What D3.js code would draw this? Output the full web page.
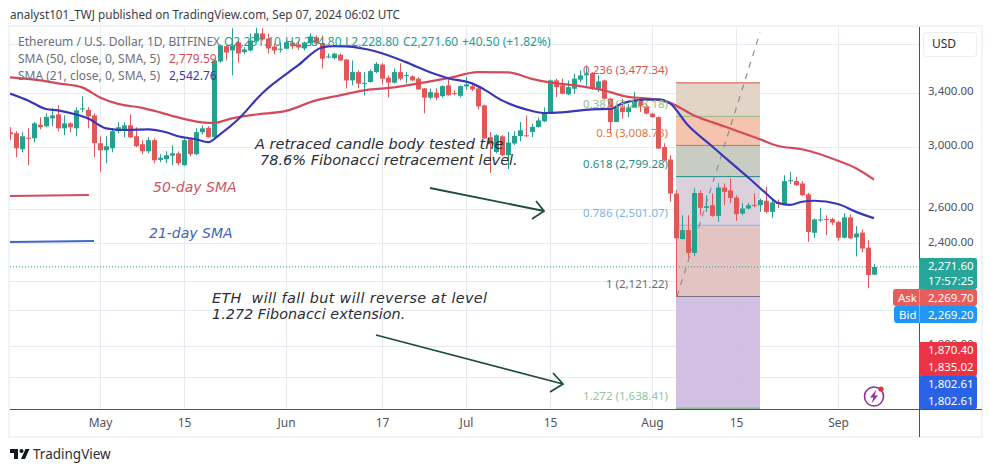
<!DOCTYPE html>
<html>
<head>
<meta charset="utf-8">
<script src="https://cdn.jsdelivr.net/npm/d3@7"></script>
<style>
  html, body { margin: 0; padding: 0; background: #fff; }
  svg { display: block; }
  text { font-family: "Noto Sans", sans-serif; }
  .note { font-family: "DejaVu Sans", sans-serif; font-style: italic; white-space: pre; }
  .axis path, .axis line { display: none; }
</style>
</head>
<body>
<div id="chart"></div>
<script>
// daily candles, Apr 16 to Sep 7 2024
var firstDay = '2024-04-16';
var opens = [3102,3095,2982,3062,3059,3156,3145,3203,3232,3130,3166,3130,3270,3267,3225,
  3024,2975,2989,3109,3123,3152,3073,3017,2968,3045,2910,2914,2938,2954,2874,3052,2948,3102,3134,3066,3654,3786,3748,3820,3733,3748,3829,3898,3853,3783,3754,
  3763,3817,3800,3765,3812,3862,3812,3688,3682,3711,3670,3497,3565,3471,3484,3565,3628,3519,3479,3565,3537,3530,3511,3433,3360,3399,3372,3457,3396,3375,
  3449,3451,3433,3301,3066,2963,3073,2941,3022,3075,3080,3104,3140,3181,3250,3497,3457,3386,3430,3503,3538,3552,3430,3497,3352,3176,3293,3250,3283,3339,3293,
  3238,3212,2998,2912,2691,2423,2473,2346,2695,2604,2620,2556,2729,2712,2667,2570,2600,2622,2620,2647,2580,2639,2627,2770,2771,2755,2687,2458,2531,2537,2537,
  2521,2430,2547,2432,2459,2375,2231.1];
var highs = [3138,3109,3102,3130,3176,3210,3240,3278,3301,3225,3174,3286,3370,3286,3240,
  3073,3073,3130,3174,3174,3232,3138,3045,3066,3059,2948,2968,3010,2968,3059,3059,3130,3152,3145,3665,3800,3792,3945,3835,3777,3898,3950,3945,3898,3812,3817,
  3835,3835,3835,3826,3898,3880,3880,3722,3728,3722,3677,3662,3579,3565,3587,3648,3639,3538,3595,3637,3565,3538,3525,3438,3433,3433,3457,3525,3417,3457,
  3525,3471,3443,3306,3104,3087,3080,3104,3109,3176,3225,3164,3210,3286,3505,3511,3511,3497,3552,3579,3620,3565,3538,3503,3360,3301,3352,3313,3404,3365,3313,
  3243,3218,3024,2941,2712,2560,2560,2725,2712,2681,2693,2759,2755,2789,2681,2631,2634,2693,2661,2735,2661,2655,2808,2830,2797,2770,2695,2541,2604,2560,2545,
  2527,2574,2564,2497,2477,2417,2287];
var lows = [3045,2927,2961,2874,3031,3123,3138,3145,3109,3080,3102,3073,3248,3130,2927,
  2828,2887,2961,3095,3066,3059,2996,2948,2954,2887,2894,2887,2874,2874,2870,2934,2941,3087,3062,3059,3645,3662,3538,3645,3718,3739,3817,3835,3722,3713,3730,
  3757,3757,3752,3748,3792,3792,3595,3680,3670,3658,3433,3457,3433,3378,3479,3557,3465,3362,3473,3497,3473,3489,3422,3240,3347,3339,3362,3375,3378,3360,
  3422,3411,3270,3055,2823,2954,2934,2848,3012,3038,3066,3068,3134,3176,3245,3365,3386,3380,3391,3484,3443,3422,3404,3344,3095,3176,3200,3212,3283,3250,3232,
  3207,2985,2900,2641,2121,2420,2322,2329,2560,2580,2550,2521,2620,2633,2527,2560,2594,2608,2580,2570,2544,2602,2622,2750,2739,2675,2407,2430,2521,2445,2502,
  2413,2427,2423,2327,2350,2162,2228.8];
var closes = [3087,2989,3073,3059,3166,3138,3214,3225,3130,3166,3138,3263,3278,3218,3024,
  2975,3003,3109,3138,3152,3066,3003,2968,3045,2907,2924,2941,2954,2887,3045,2948,3102,3130,3066,3662,3792,3730,3792,3722,3757,3835,3900,3844,3765,3748,3763,
  3820,3783,3774,3817,3871,3809,3677,3696,3720,3662,3497,3565,3471,3477,3573,3634,3511,3479,3565,3511,3540,3497,3425,3360,3404,3360,3451,3380,3391,3451,
  3465,3425,3293,3057,3017,3080,2941,3029,3075,3116,3076,3140,3188,3250,3497,3443,3391,3443,3511,3538,3552,3430,3489,3352,3176,3288,3250,3283,3339,3293,3238,
  3212,2987,2907,2691,2427,2473,2346,2695,2604,2614,2556,2729,2702,2664,2566,2600,2620,2618,2651,2580,2637,2627,2770,2776,2744,2681,2463,2535,2535,2533,2517,
  2430,2547,2427,2454,2370,2229,2271.6];

// moving averages, read at key dates
var sma50Dates = ['2024-04-16','2024-04-21','2024-04-24','2024-04-28','2024-05-01','2024-05-04','2024-05-08','2024-05-11','2024-05-14','2024-05-18','2024-05-20','2024-05-23','2024-05-27','2024-06-01','2024-06-06','2024-06-10','2024-06-14','2024-06-19','2024-06-25','2024-06-28','2024-07-03','2024-07-08','2024-07-12','2024-07-15','2024-07-20','2024-07-24','2024-07-28','2024-07-31','2024-08-04','2024-08-08','2024-08-13','2024-08-19','2024-08-22','2024-08-26','2024-09-01','2024-09-04','2024-09-07'];
var sma50Values = [3522,3497,3473,3441,3362,3312,3282,3248,3210,3174,3170,3203,3232,3259,3339,3378,3417,3441,3489,3515,3565,3563,3510,3481,3451,3417,3366,3355,3320,3225,3145,3052,3005,2982,2904,2854,2779.59];
var sma21Dates = ['2024-04-16','2024-04-19','2024-04-22','2024-04-24','2024-04-27','2024-04-29','2024-05-02','2024-05-05','2024-05-09','2024-05-12','2024-05-14','2024-05-17','2024-05-19','2024-05-21','2024-05-24','2024-05-28','2024-06-03','2024-06-07','2024-06-09','2024-06-11','2024-06-16','2024-06-21','2024-06-25','2024-06-28','2024-07-02','2024-07-04','2024-07-07','2024-07-11','2024-07-14','2024-07-17','2024-07-22','2024-07-25','2024-07-27','2024-07-30','2024-08-02','2024-08-04','2024-08-07','2024-08-11','2024-08-14','2024-08-17','2024-08-20','2024-08-22','2024-08-24','2024-08-26','2024-08-28','2024-09-01','2024-09-04','2024-09-07'];
var sma21Values = [3393,3339,3273,3263,3232,3203,3130,3118,3123,3102,3073,3052,3031,3087,3195,3393,3620,3774,3786,3783,3739,3648,3563,3515,3473,3425,3339,3270,3243,3248,3270,3273,3316,3343,3347,3316,3152,3003,2896,2795,2693,2633,2622,2641,2647,2627,2580,2542.76];

// fibonacci retracement
var fibStart = '2024-08-05', fibEnd = '2024-08-19';
var fibRatios = ['0.236','0.382','0.5','0.618','0.786','1','1.272'];
var fibPrices = [3477.34,3218.18,3008.73,2799.28,2501.07,2121.22,1638.41];
var fibPriceText = ['3,477.34','3,218.18','3,008.73','2,799.28','2,501.07','2,121.22','1,638.41'];
var fibLineColors = ['#cf4f44','#8dbb7e','#d9703a','#1f8f83','#7fb6e0','#77727f','#86bd8a'];
var fibFillColors = ['#e0d2c3','#f6c0ab','#c5c9c0','#dacddb','#e2c1bf','#cfbde0'];
var fibTextColors = ['#d0574c','#93bf85','#dd7a3e','#1f8f83','#7db3e2','#6a6d78','#93c596'];
var extendTo = 3906;   // dashed trend line end

var gridPrices = [3800,3400,3000,2600,2400,2200,2056,1893,1759];
var priceTicks = [3400,3000,2600,2400,1893];
var priceTickLabels = ['3,400.00','3,000.00','2,600.00','2,400.00','1,800.00'];
var timeTicks = ['2024-05-01','2024-05-15','2024-06-01','2024-06-17','2024-07-01','2024-07-15','2024-08-01','2024-08-15','2024-09-01'];
var timeTickLabels = ['May','15','Jun','17','Jul','15','Aug','15','Sep'];

var W = 991, H = 472;
var plotLeft = 10, plotRight = 919, plotTop = 27, plotBottom = 409;
var green = '#26a08f', red = '#e25858', textGrey = '#6d707b';

var parseDay = d3.utcParse('%Y-%m-%d');
var days = d3.utcDay.range(parseDay(firstDay), d3.utcDay.offset(parseDay('2024-09-07'), 1));

var x = d3.scaleUtc()
  .domain([parseDay(firstDay), new Date(Date.UTC(2024, 8, 14, 12))])
  .range([plotLeft, plotRight]);
var y = d3.scaleLog().domain([1635, 3957]).range([plotBottom, plotTop]);

var svg = d3.select('#chart').append('svg').attr('width', W).attr('height', H);

svg.append('defs').append('clipPath').attr('id', 'plot')
  .append('rect').attr('x', plotLeft).attr('y', plotTop).attr('width', plotRight - plotLeft).attr('height', plotBottom - plotTop);

// panel frame
svg.append('rect').attr('x', 9).attr('y', 26).attr('width', 973).attr('height', 411)
  .attr('fill', '#fff').attr('stroke', '#f0f3fa').attr('stroke-width', 2);

svg.append('text').attr('x', 10).attr('y', 19).attr('font-size', 11.7).attr('fill', '#3a3d46')
  .text('analyst101_TWJ published on TradingView.com, Sep 07, 2024 06:02 UTC');

var plot = svg.append('g').attr('clip-path', 'url(#plot)');

// grid
plot.append('g').selectAll('line').data(gridPrices).enter().append('line')
  .attr('x1', plotLeft).attr('x2', plotRight)
  .attr('y1', function(d) { return Math.round(y(d)) + 0.5; })
  .attr('y2', function(d) { return Math.round(y(d)) + 0.5; })
  .attr('stroke', '#e6ebf1');
plot.append('g').selectAll('line').data(timeTicks).enter().append('line')
  .attr('y1', plotTop).attr('y2', plotBottom)
  .attr('x1', function(d) { return Math.round(x(parseDay(d))) + 0.5; })
  .attr('x2', function(d) { return Math.round(x(parseDay(d))) + 0.5; })
  .attr('stroke', '#e6ebf1');

// fib bands
var fibX0 = x(parseDay(fibStart)), fibX1 = x(parseDay(fibEnd));
plot.append('g').selectAll('rect').data(fibFillColors).enter().append('rect')
  .attr('x', fibX0).attr('width', fibX1 - fibX0)
  .attr('y', function(d, i) { return y(fibPrices[i]); })
  .attr('height', function(d, i) { return y(fibPrices[i + 1]) - y(fibPrices[i]); })
  .attr('fill', function(d) { return d; })
  .attr('fill-opacity', 0.95);
plot.append('rect').attr('x', fibX0).attr('width', fibX1 - fibX0)
  .attr('y', y(fibPrices[6])).attr('height', plotBottom - y(fibPrices[6]))
  .attr('fill', '#8fb39b');
plot.append('g').selectAll('line').data(fibPrices).enter().append('line')
  .attr('x1', fibX0).attr('x2', fibX1)
  .attr('y1', function(d) { return y(d); })
  .attr('y2', function(d) { return y(d); })
  .attr('stroke', function(d, i) { return fibLineColors[i]; });

plot.append('line')
  .attr('x1', fibX0 + 1).attr('y1', y(fibPrices[5]))
  .attr('x2', fibX1).attr('y2', y(extendTo))
  .attr('stroke', '#8a8d96').attr('stroke-width', 1.2).attr('stroke-dasharray', '6 6');

// last price line
plot.append('line').attr('x1', plotLeft).attr('x2', plotRight)
  .attr('y1', y(closes[closes.length - 1])).attr('y2', y(closes[closes.length - 1]))
  .attr('stroke', green).attr('stroke-dasharray', '1 2');

// candles
var candles = plot.append('g').selectAll('g').data(days).enter().append('g')
  .attr('fill', function(d, i) { return closes[i] >= opens[i] ? green : red; })
  .attr('stroke', function(d, i) { return closes[i] >= opens[i] ? green : red; });
candles.append('line')
  .attr('x1', function(d) { return Math.round(x(d)) + 0.5; })
  .attr('x2', function(d) { return Math.round(x(d)) + 0.5; })
  .attr('y1', function(d, i) { return y(highs[i]); })
  .attr('y2', function(d, i) { return y(lows[i]); });
candles.append('rect')
  .attr('stroke', 'none')
  .attr('x', function(d) { return Math.round(x(d)) - 2; })
  .attr('width', 5)
  .attr('y', function(d, i) { return y(Math.max(opens[i], closes[i])); })
  .attr('height', function(d, i) { return Math.max(1, Math.abs(y(opens[i]) - y(closes[i]))); });

// moving averages
var smaLine = d3.line().curve(d3.curveMonotoneX)
  .x(function(d) { return x(d[0]); })
  .y(function(d) { return y(d[1]); });
plot.append('path')
  .attr('d', smaLine(d3.zip(sma50Dates.map(parseDay), sma50Values)))
  .attr('fill', 'none').attr('stroke', '#d34b5b').attr('stroke-width', 2.2);
plot.append('path')
  .attr('d', smaLine(d3.zip(sma21Dates.map(parseDay), sma21Values)))
  .attr('fill', 'none').attr('stroke', '#3a37b5').attr('stroke-width', 2.2);

// fib labels
svg.append('g').selectAll('text').data(fibRatios).enter().append('text')
  .attr('x', 668).attr('text-anchor', 'end').attr('font-size', 11.5)
  .attr('y', function(d, i) { return y(fibPrices[i]) - 8.5; })
  .attr('fill', function(d, i) { return fibTextColors[i]; })
  .text(function(d, i) { return d + ' (' + fibPriceText[i] + ')'; });

// hand drawn notes
var notes = svg.append('g').attr('class', 'notes');
function note(px, py, str, color, size, len) {
  var t = notes.append('text').attr('class', 'note').attr('x', px).attr('y', py)
    .attr('font-size', size).attr('fill', color).text(str);
  if (len) t.attr('textLength', len);
}
note(255, 149, 'A retraced candle body tested the', '#2b2e36', 14.5);
note(260, 165, '78.6% Fibonacci retracement level.', '#2b2e36', 14.5);
note(153, 192, '50-day SMA', '#cf5560', 14);
note(149, 238, '21-day SMA', '#3f66b8', 14);
note(212, 303, 'ETH  will fall but will reverse at level', '#2b2e36', 14.4, 275);
note(212, 319, '1.272 Fibonacci extension.', '#2b2e36', 14.4);

notes.append('path').attr('d', 'M10 196L89 195').attr('stroke', '#d34b5b').attr('stroke-width', 2).attr('fill', 'none');
notes.append('path').attr('d', 'M10 242L94 241').attr('stroke', '#3f66c8').attr('stroke-width', 2).attr('fill', 'none');
notes.append('path').attr('d', 'M430 188L544 211M536 201L544 211L532 219')
  .attr('stroke', '#1e4d40').attr('stroke-width', 1.8).attr('fill', 'none');
notes.append('path').attr('d', 'M376 335L563 384M553 373L563 384L550 392')
  .attr('stroke', '#1e4d40').attr('stroke-width', 1.8).attr('fill', 'none');

// legend on top of the candles
var legend = svg.append('g').attr('font-size', 12);
function legendText(px, py, str, color) {
  legend.append('text').attr('x', px).attr('y', py).attr('fill', color).text(str);
}
legendText(18, 46, 'Ethereum / U.S. Dollar, 1D, BITFINEX', textGrey);
legendText(224, 46, 'O2,231.10', green);
legendText(285, 46, 'H2,284.80', green);
legendText(345, 46, 'L2,228.80', green);
legendText(403, 46, 'C2,271.60', green);
legendText(462, 46, '+40.50 (+1.82%)', green);
legendText(18, 63, 'SMA (50, close, 0, SMA, 5)', textGrey);
legendText(169, 63, '2,779.59', '#d34b5b');
legendText(18, 80, 'SMA (21, close, 0, SMA, 5)', textGrey);
legendText(169, 80, '2,542.76', '#3a37b5');

// axes
var xAxis = d3.axisBottom(x)
  .tickValues(timeTicks.map(parseDay))
  .tickSize(0).tickPadding(9)
  .tickFormat(function(d, i) { return timeTickLabels[i]; });
svg.append('g').attr('class', 'axis').attr('transform', 'translate(0,' + plotBottom + ')').call(xAxis)
  .selectAll('text').attr('font-size', 12).attr('fill', '#50535e')
  .attr('font-family', '"Noto Sans", sans-serif');

var yAxis = d3.axisRight(y)
  .tickValues(priceTicks)
  .tickSize(0).tickPadding(9)
  .tickFormat(function(d, i) { return priceTickLabels[i]; });
svg.append('g').attr('class', 'axis').attr('transform', 'translate(' + plotRight + ',-1.5)').call(yAxis)
  .selectAll('text').attr('font-size', 11.5).attr('fill', '#50535e')
  .attr('font-family', '"Noto Sans", sans-serif');

svg.append('line').attr('x1', plotLeft).attr('x2', 982).attr('y1', plotBottom + 0.5).attr('y2', plotBottom + 0.5).attr('stroke', '#50535e');
svg.append('line').attr('x1', plotRight + 0.5).attr('x2', plotRight + 0.5).attr('y1', plotTop).attr('y2', 437).attr('stroke', '#50535e');

// USD button
svg.append('rect').attr('x', 923.5).attr('y', 32.5).attr('width', 53).attr('height', 24).attr('rx', 3)
  .attr('fill', '#fff').attr('stroke', '#eceef3');
svg.append('text').attr('x', 932).attr('y', 48).attr('font-size', 12).attr('fill', '#2b2e36').text('USD');

// price badges
function badge(bx, by, bw, bh, fill, r) {
  svg.append('rect').attr('x', bx).attr('y', by).attr('width', bw).attr('height', bh).attr('rx', r).attr('fill', fill);
}
function badgeText(px, py, str) {
  svg.append('text').attr('x', px).attr('y', py).attr('font-size', 11.5).attr('fill', '#fff').text(str);
}
badge(919, 258, 58, 31, '#26a699', 2);
badgeText(928, 270, '2,271.60');
badgeText(928, 285, '17:57:25');
badge(893, 289, 84, 17, '#e85c5c', 3);
badgeText(898, 302, 'Ask');
badgeText(928, 302, '2,269.70');
badge(894, 306, 83, 17, '#2196f3', 3);
svg.append('line').attr('x1', 919.5).attr('x2', 919.5).attr('y1', 289).attr('y2', 323).attr('stroke', '#fff').attr('stroke-opacity', 0.35);
badgeText(899, 319, 'Bid');
badgeText(928, 319, '2,269.20');
badge(919, 342, 58, 34, '#ea3343', 2);
badgeText(928, 354, '1,870.40');
badgeText(928, 371, '1,835.02');
badge(919, 376, 58, 33, '#2a62e6', 2);
badgeText(928, 388, '1,802.61');
badgeText(928, 405, '1,802.61');

// flash icon
svg.append('circle').attr('cx', 874).attr('cy', 396.5).attr('r', 9.5)
  .attr('fill', '#fff').attr('stroke', '#8e2fa0').attr('stroke-width', 1.6);
svg.append('path').attr('d', 'M876.5 389.5L870 397.5H873.5L871.5 403.5L878 395.5H874.5Z').attr('fill', '#8e2fa0');
svg.append('circle').attr('cx', 881).attr('cy', 389).attr('r', 2.6).attr('fill', '#e0343f');

// TradingView logo
svg.append('path').attr('d', 'M10 449H18V459H14V453H10ZM25.5 449H29.5L25 459H21Z').attr('fill', '#131722');
svg.append('circle').attr('cx', 21.5).attr('cy', 451).attr('r', 2).attr('fill', '#131722');
svg.append('text').attr('x', 33).attr('y', 459).attr('font-size', 13.5).attr('fill', '#2b2e36').text('TradingView');
</script>
</body>
</html>
